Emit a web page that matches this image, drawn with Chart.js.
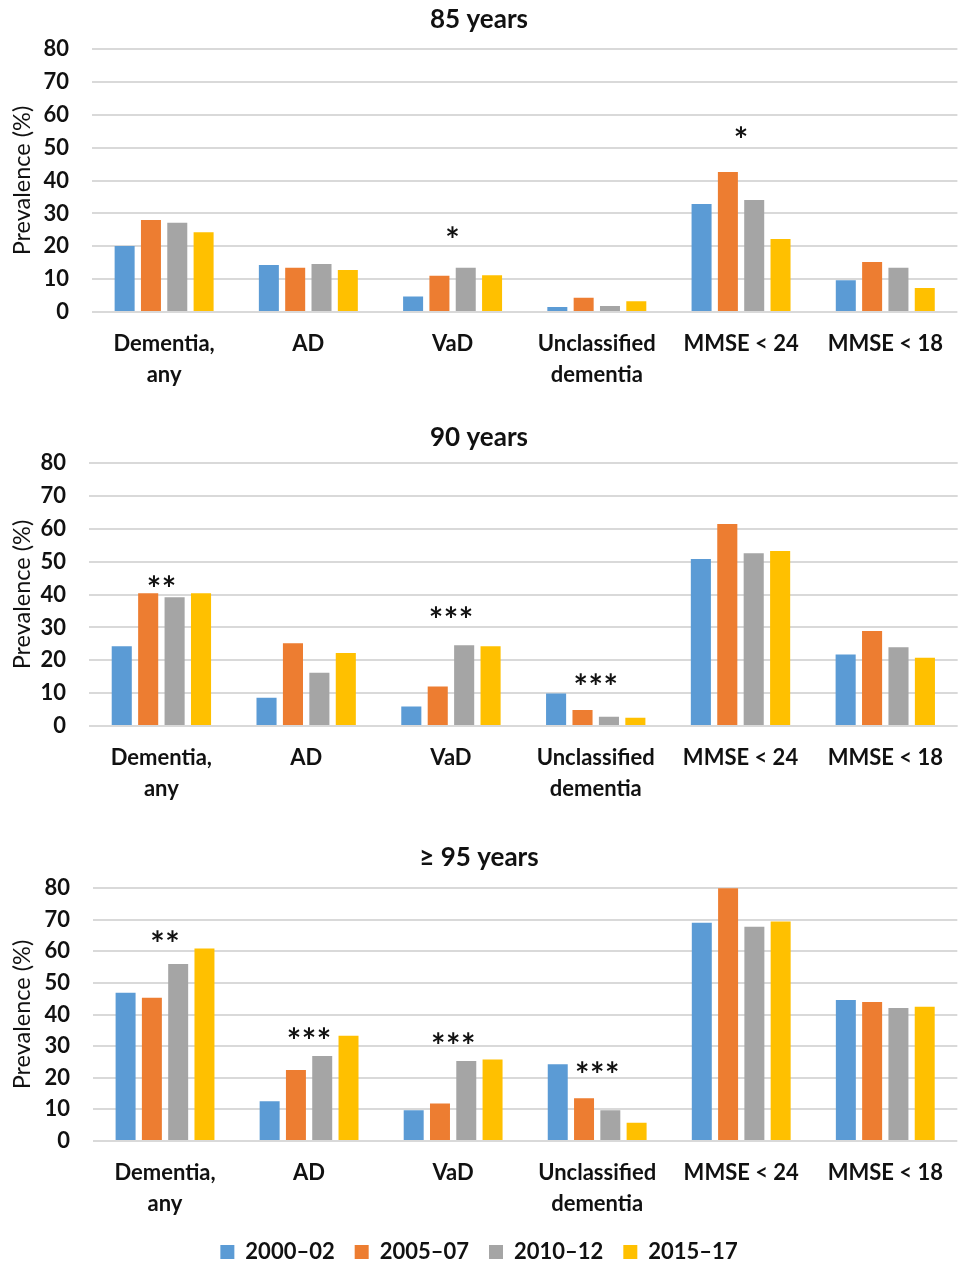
<!DOCTYPE html>
<html>
<head>
<meta charset="utf-8">
<script src="https://cdn.jsdelivr.net/npm/chart.js@4.4.1/dist/chart.umd.min.js"></script>
<style>
  html, body { margin: 0; padding: 0; background: #ffffff; }
  body { width: 959px; height: 1263px; position: relative; overflow: hidden; }
  .panel { position: absolute; left: 0; width: 959px; }
  canvas { display: block; }
</style>
</head>
<body>
<div class="panel" style="top:0px;height:392px"><canvas id="c85" width="959" height="392"></canvas></div>
<div class="panel" style="top:410px;height:396px"><canvas id="c90" width="959" height="396"></canvas></div>
<div class="panel" style="top:830px;height:443px"><canvas id="c95" width="959" height="443"></canvas></div>
<script>
// Outcome categories on the x axis
const categories = [["Dementia,", "any"], "AD", "VaD", ["Unclassified", "dementia"], "MMSE < 24", "MMSE < 18"];
// Birth-cohort examination periods
const periods = ["2000–02", "2005–07", "2010–12", "2015–17"];
const periodColors = ["#5B9BD5", "#ED7D31", "#A5A5A5", "#FFC000"];
// Value axis
const yMin = 0, yMax = 80, yStep = 10;

// Prevalence (%) at age 85
const age85_2000 = [20.1, 14.3, 4.7, 1.5, 32.9, 9.7];
const age85_2005 = [28.0, 13.5, 11.0, 4.3, 42.6, 15.2];
const age85_2010 = [27.2, 14.6, 13.5, 1.8, 34.1, 13.5];
const age85_2015 = [24.3, 12.8, 11.2, 3.3, 22.2, 7.3];
const sig85 = ["", "", "*", "", "*", ""];
const sigAt85 = [null, null, 24, null, 54.4, null];

// Prevalence (%) at age 90
const age90_2000 = [24.3, 8.6, 5.9, 9.9, 50.8, 21.8];
const age90_2005 = [40.4, 25.2, 12.0, 4.9, 61.5, 28.9];
const age90_2010 = [39.2, 16.2, 24.6, 2.8, 52.6, 24.0];
const age90_2015 = [40.4, 22.2, 24.3, 2.5, 53.3, 20.8];
const sig90 = ["**", "", "***", "***", "", ""];
const sigAt90 = [43.8, null, 34.4, 13.9, null, null];

// Prevalence (%) at age 95 and over
const age95_2000 = [46.9, 12.6, 9.7, 24.3, 69.1, 44.6];
const age95_2005 = [45.3, 22.5, 11.9, 13.5, 80.8, 44.0];
const age95_2010 = [56.0, 26.9, 25.3, 9.7, 67.8, 42.1];
const age95_2015 = [60.9, 33.3, 25.8, 5.8, 69.5, 42.5];
const sig95 = ["**", "***", "***", "***", "", ""];
const sigAt95 = [64.5, 33.7, 32.4, 23.2, null, null];

const FONT = "Lato";
const INK = "#111111";

// Draws significance asterisks centred over each category
const sigPlugin = {
  id: "sigMarks",
  afterDatasetsDraw(chart, args, opts) {
    const { ctx } = chart;
    const xs = chart.scales.x, ys = chart.scales.y;
    ctx.save();
    ctx.fillStyle = INK;
    ctx.font = "bold 34px " + FONT;
    ctx.textAlign = "center";
    ctx.textBaseline = "middle";
    opts.marks.forEach((m, i) => {
      if (!m) return;
      const cx = xs.getPixelForValue(i);
      const cy = ys.getPixelForValue(opts.at[i]) + 8;
      const gap = 15;
      const n = m.length;
      for (let k = 0; k < n; k++) {
        ctx.fillText("*", cx + (k - (n - 1) / 2) * gap, cy);
      }
    });
    ctx.restore();
  }
};

function makePanel(id, title, series, marks, at, geo) {
  const datasets = series.map((d, i) => ({
    label: periods[i],
    data: d,
    backgroundColor: periodColors[i],
    borderWidth: 0,
    categoryPercentage: 0.73,
    barPercentage: 0.76
  }));
  return new Chart(document.getElementById(id), {
    type: "bar",
    data: { labels: categories, datasets },
    plugins: [sigPlugin],
    options: {
      responsive: false,
      devicePixelRatio: 1,
      animation: false,
      events: [],
      layout: { padding: { left: 0, right: 1, top: 0, bottom: 0 } },
      plugins: {
        title: {
          display: true,
          text: title,
          color: INK,
          font: { family: FONT, size: 26, weight: "bold", lineHeight: 1.2 },
          padding: { top: geo.titleTop, bottom: geo.titleBottom }
        },
        legend: geo.legend ? {
          display: true,
          position: "bottom",
          labels: {
            color: INK,
            boxWidth: 14,
            boxHeight: 14,
            padding: 20,
            font: { family: FONT, size: 22, weight: "bold" }
          }
        } : { display: false },
        tooltip: { enabled: false },
        sigMarks: { marks, at }
      },
      scales: {
        x: {
          grid: { display: false, drawTicks: false },
          border: { display: false },
          ticks: {
            color: INK,
            padding: 16,
            maxRotation: 0,
            autoSkip: false,
            font: { family: FONT, size: 22, weight: "bold", lineHeight: 1.41 }
          },
          afterFit(s) { s.height = geo.xHeight; }
        },
        y: {
          min: yMin,
          max: yMax,
          grid: { color: "#d9d9d9", lineWidth: 2, drawTicks: false },
          border: { display: false },
          ticks: {
            stepSize: yStep,
            color: INK,
            padding: 23,
            font: { family: FONT, size: 22, weight: "bold" }
          },
          title: {
            display: true,
            text: "Prevalence (%)",
            color: INK,
            font: { family: FONT, size: 23.5, weight: "normal", lineHeight: 1.2 },
            padding: { top: 8, bottom: 0 }
          },
          afterFit(s) { s.width = geo.yWidth; }
        }
      }
    }
  });
}

makePanel("c85", "85 years", [age85_2000, age85_2005, age85_2010, age85_2015], sig85, sigAt85,
  { titleTop: 4, titleBottom: 14, xHeight: 80, yWidth: 92 });
makePanel("c90", "90 years", [age90_2000, age90_2005, age90_2010, age90_2015], sig90, sigAt90,
  { titleTop: 12, titleBottom: 10, xHeight: 80, yWidth: 89 });
makePanel("c95", "≥ 95 years", [age95_2000, age95_2005, age95_2010, age95_2015], sig95, sigAt95,
  { titleTop: 12, titleBottom: 15, xHeight: 80, yWidth: 93, legend: true });
</script>
</body>
</html>
